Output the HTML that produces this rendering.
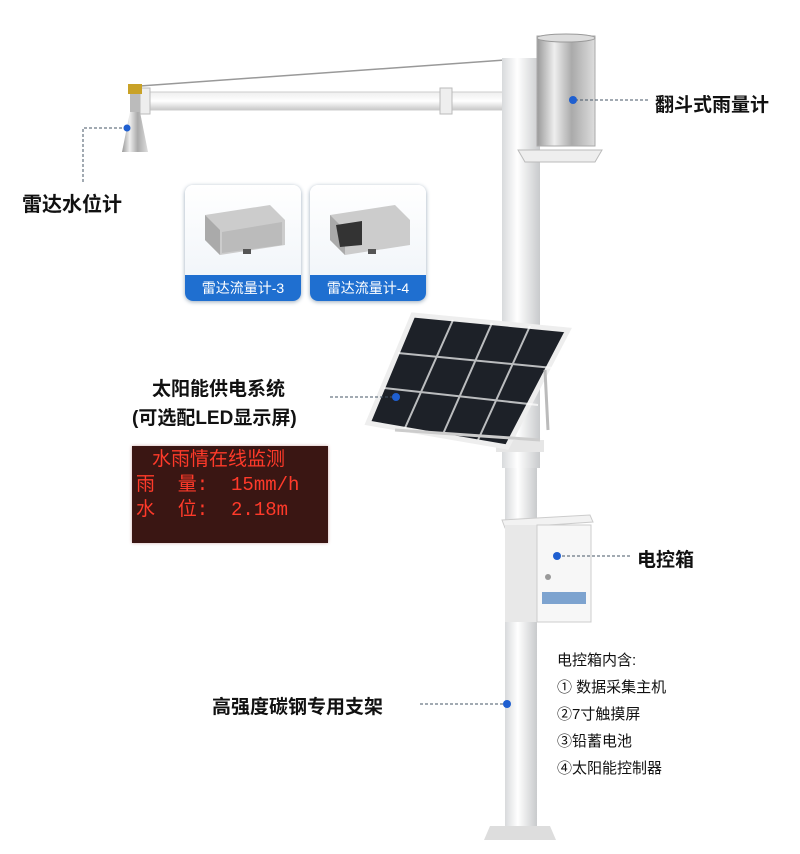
<!DOCTYPE html>
<html><head><meta charset="utf-8"><style>
html,body{margin:0;padding:0;background:#fff}
body{width:800px;height:854px;position:relative;overflow:hidden;font-family:"Liberation Sans","Noto Sans CJK SC",sans-serif}
.t{position:absolute;color:#111;white-space:nowrap;font-weight:bold}
.led{position:absolute;left:132px;top:446px;width:196px;height:97px;background:#3a1613;box-shadow:0 0 3px #caa;color:#ff3a2a;font-family:"Liberation Mono","Noto Sans CJK SC",monospace;font-size:19px;line-height:25px;padding:2px 0 0 4px;box-sizing:border-box}
.card{position:absolute;top:185px;width:116px;height:116px;border-radius:8px;background:linear-gradient(#fff,#eef3f8);box-shadow:0 1px 4px #9ab}
.card .b{position:absolute;left:0;right:0;bottom:0;height:26px;background:#1f6fd0;color:#fff;font-size:14px;text-align:center;line-height:26px;border-radius:0 0 8px 8px}
</style></head><body>
<svg width="800" height="854" style="position:absolute;left:0;top:0">
<defs>
<linearGradient id="p" x1="0" x2="1"><stop offset="0" stop-color="#d8dadc"/><stop offset=".4" stop-color="#fff"/><stop offset="1" stop-color="#c8cacc"/></linearGradient>
<linearGradient id="s" x1="0" x2="1"><stop offset="0" stop-color="#999"/><stop offset=".3" stop-color="#eee"/><stop offset=".6" stop-color="#aaa"/><stop offset="1" stop-color="#ddd"/></linearGradient>
<linearGradient id="h" x1="0" y1="0" x2="0" y2="1"><stop offset="0" stop-color="#eee"/><stop offset=".5" stop-color="#fff"/><stop offset="1" stop-color="#c8c8c8"/></linearGradient>
</defs>
<line x1="140" y1="86" x2="505" y2="60" stroke="#999" stroke-width="1.5"/>
<rect x="140" y="92" width="368" height="18" fill="url(#h)" stroke="#ccc"/>
<rect x="440" y="88" width="12" height="26" fill="#eee" stroke="#bbb"/>
<rect x="140" y="88" width="10" height="26" fill="#eee" stroke="#bbb"/>
<rect x="128" y="84" width="14" height="10" fill="#c9a227"/>
<rect x="130" y="94" width="10" height="18" fill="#bbb"/>
<polygon points="130,112 140,112 148,152 122,152" fill="url(#s)"/>
<rect x="502" y="58" width="38" height="410" fill="url(#p)"/>
<rect x="505" y="468" width="32" height="370" fill="url(#p)"/>
<rect x="496" y="440" width="48" height="12" fill="#e6e6e6"/>
<polygon points="490,826 550,826 556,840 484,840" fill="#ddd"/>
<rect x="537" y="36" width="58" height="110" fill="url(#s)" stroke="#aaa"/>
<ellipse cx="566" cy="38" rx="29" ry="4" fill="#ddd" stroke="#999"/>
<polygon points="518,150 602,150 595,162 525,162" fill="#eee" stroke="#bbb"/>
<polygon points="413,315 568,330 507,447 368,423" fill="#1d2128" stroke="#eee" stroke-width="5"/>
<g stroke="#fff" stroke-width="2" opacity=".7">
<line x1="398" y1="353" x2="553" y2="368"/><line x1="384" y1="388" x2="538" y2="405"/>
<line x1="453" y1="320" x2="405" y2="428"/><line x1="492" y1="323" x2="443" y2="434"/><line x1="530" y1="326" x2="478" y2="440"/>
</g>
<line x1="545" y1="370" x2="548" y2="430" stroke="#bbb" stroke-width="3"/>
<line x1="395" y1="430" x2="540" y2="440" stroke="#ccc" stroke-width="3"/>
<polygon points="502,520 590,515 593,522 505,528" fill="#f2f2f2" stroke="#ccc"/>
<rect x="505" y="525" width="32" height="97" fill="#e8e8e8"/>
<rect x="537" y="525" width="54" height="97" fill="#f7f7f7" stroke="#ccc"/>
<rect x="542" y="592" width="44" height="12" fill="#7da3cf"/>
<circle cx="548" cy="577" r="3" fill="#999"/>
<g stroke="#456" stroke-dasharray="3,2" fill="none">
<polyline points="127,128 83,128 83,182"/>
<line x1="575" y1="100" x2="650" y2="100"/>
<line x1="330" y1="397" x2="398" y2="397"/>
<line x1="557" y1="556" x2="630" y2="556"/>
<line x1="420" y1="704" x2="505" y2="704"/>
</g>
<g fill="#1f5fd0"><circle cx="127" cy="128" r="3.5"/><circle cx="573" cy="100" r="4"/><circle cx="396" cy="397" r="4"/><circle cx="557" cy="556" r="4"/><circle cx="507" cy="704" r="4"/></g>
</svg>
<div class="card" style="left:185px"><svg width="116" height="90"><polygon points="20,30 85,20 100,35 100,60 35,70 20,55" fill="#ccc"/><polygon points="20,30 35,45 35,70 20,55" fill="#aaa"/><polygon points="37,47 97,37 97,60 37,68" fill="#bbb"/><rect x="58" y="64" width="8" height="5" fill="#555"/></svg><div class="b">雷达流量计-3</div></div>
<div class="card" style="left:310px"><svg width="116" height="90"><polygon points="20,30 85,20 100,35 100,60 35,70 20,55" fill="#ccc"/><polygon points="20,30 35,45 35,70 20,55" fill="#aaa"/><polygon points="26,40 52,36 52,60 30,62" fill="#333"/><rect x="58" y="64" width="8" height="5" fill="#555"/></svg><div class="b">雷达流量计-4</div></div>
<div class="t" style="left:22px;top:188px;font-size:20px">雷达水位计</div>
<div class="t" style="left:655px;top:90px;font-size:19px">翻斗式雨量计</div>
<div class="t" style="left:152px;top:374px;font-size:19px">太阳能供电系统</div>
<div class="t" style="left:132px;top:403px;font-size:19px">(可选配LED显示屏)</div>
<div class="led"><div style="padding-left:16px">水雨情在线监测</div><div>雨&nbsp;&nbsp;量:&nbsp;&nbsp;15mm/h</div><div>水&nbsp;&nbsp;位:&nbsp;&nbsp;2.18m</div></div>
<div class="t" style="left:637px;top:545px;font-size:19px">电控箱</div>
<div class="t" style="left:557px;top:647px;font-size:15px;line-height:27px;font-weight:normal">电控箱内含:<br>① 数据采集主机<br>②7寸触摸屏<br>③铅蓄电池<br>④太阳能控制器</div>
<div class="t" style="left:212px;top:692px;font-size:19px">高强度碳钢专用支架</div>
</body></html>
